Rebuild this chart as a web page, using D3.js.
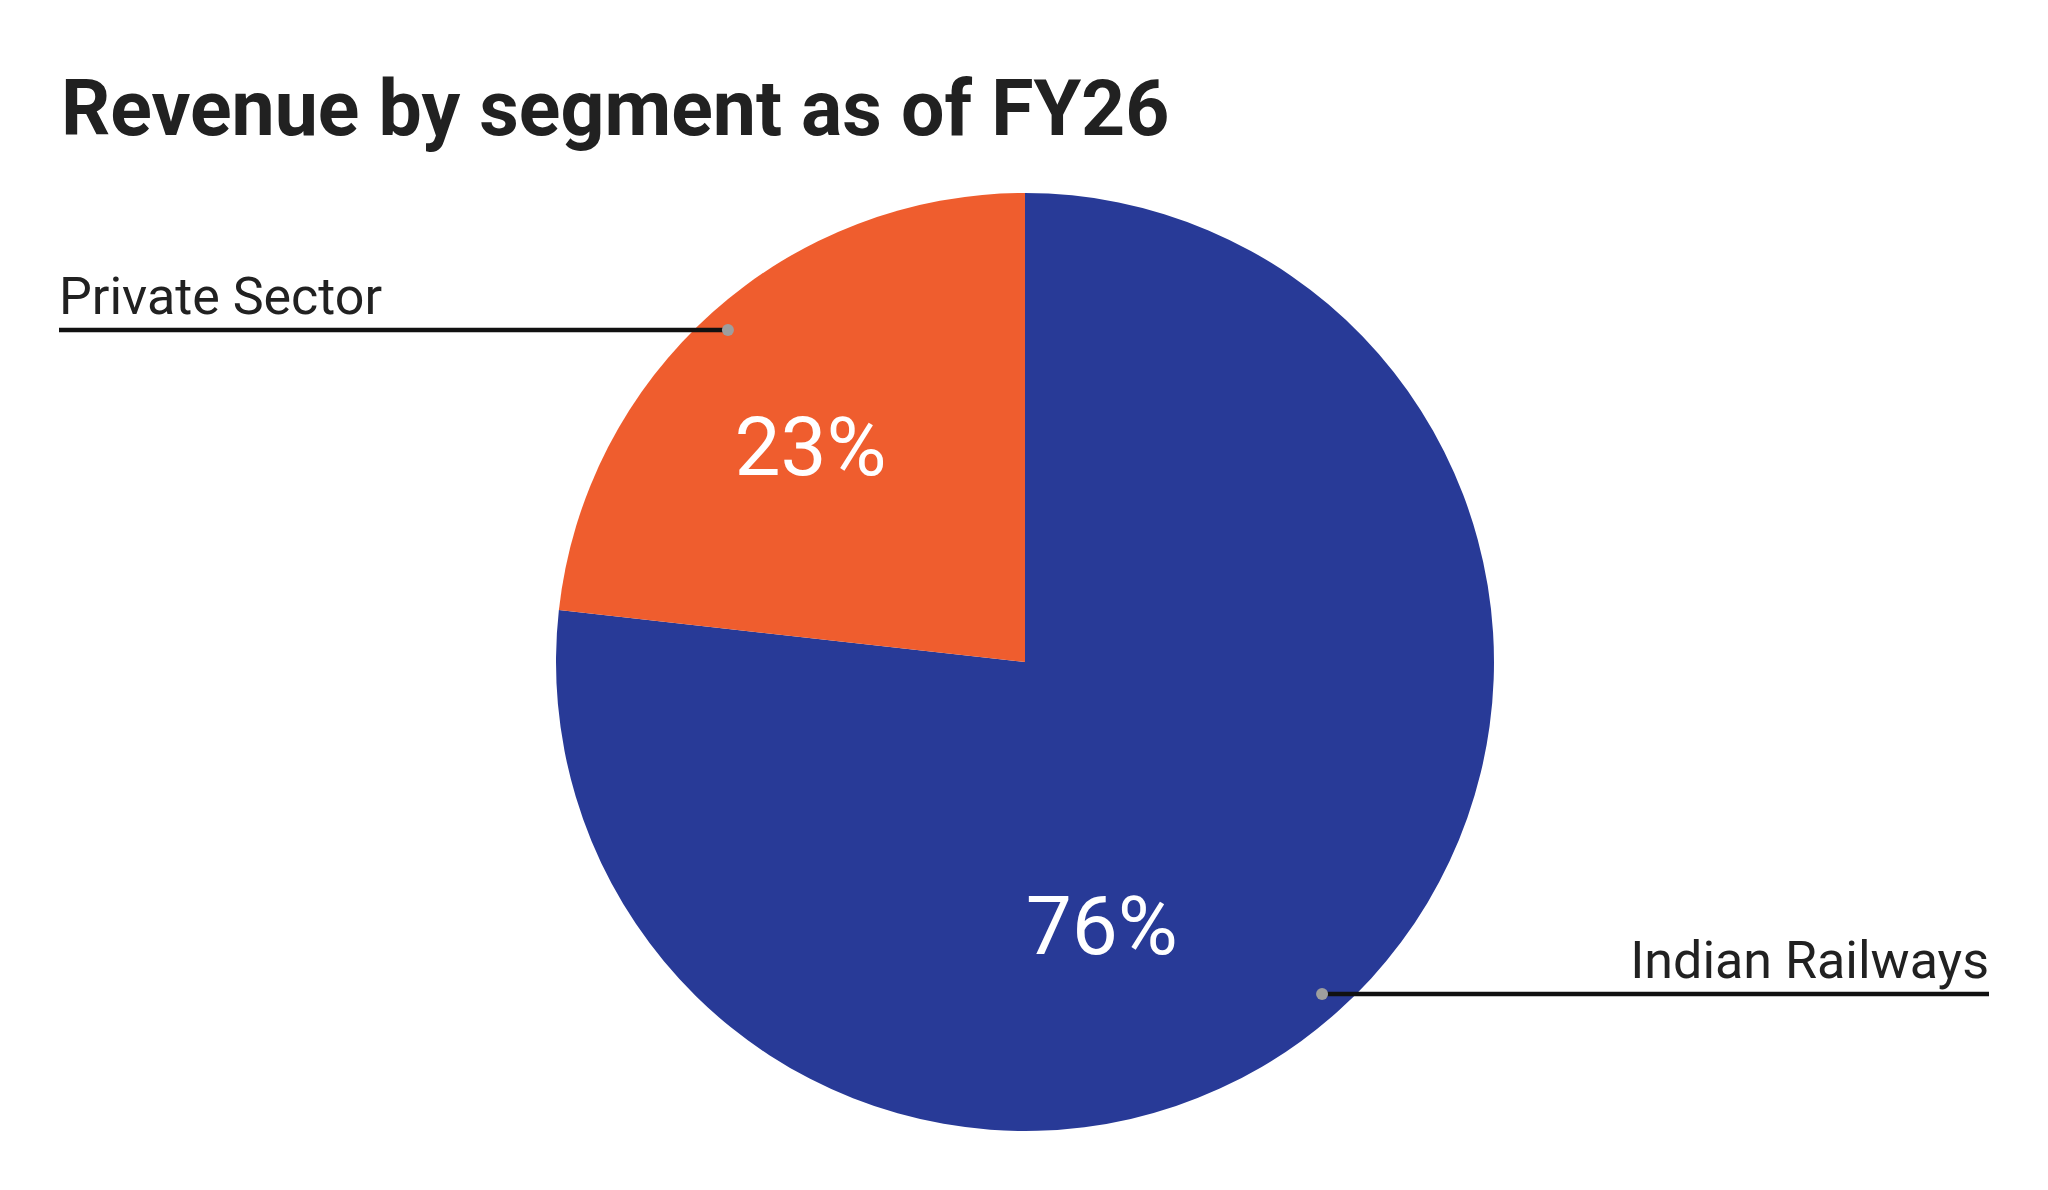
<!DOCTYPE html>
<html>
<head>
<meta charset="utf-8">
<script src="https://cdn.jsdelivr.net/npm/d3@7"></script>
<style>
  body { margin: 0; background: #fff; }
  text { font-family: Roboto, "Noto Sans", sans-serif; }
</style>
</head>
<body>
<svg id="chart" width="2048" height="1190"></svg>
<script>
"use strict";

// data
var segments = [ "Indian Railways", "Private Sector" ];
var shares   = [ 76, 23 ];
var pctLabels = [ "76%", "23%" ];
var colours  = [ "#283a97", "#ef5d2e" ];

var W = 2048, H = 1190;
var cx = 1025, cy = 662, R = 469;

var svg = d3.select("#chart");

svg.append("text")
  .attr( "x", 61 )
  .attr( "y", 135 )
  .style( "font-size", "77px" )
  .style( "font-weight", "bold" )
  .style( "fill", "#212121" )
  .text( "Revenue by segment as of FY26" );

var rows = segments.map( function(s, i) {
  return { name: s, value: shares[i], label: pctLabels[i], colour: colours[i] };
} );

var pie = d3.pie().sort( null ).value( function(d) { return d.value } );
var arcs = pie( rows );

var arc = d3.arc().innerRadius( 0 ).outerRadius( R );

var g = svg.append("g")
  .attr( "transform", "translate(" + cx + "," + cy + ")" );

// slices
g.selectAll("path.slice")
  .data( arcs )
  .enter().append("path")
  .attr( "class", "slice" )
  .attr( "d", arc )
  .style( "fill", function(d) { return d.data.colour } );

// percentage labels (big slice label sits off its middle, as in the source)
var labelFrac = [ 0.593, 0.46 ];
var labelDist = [ 0.59 * R, 0.645 * R ];
function polar( a, r ) { return [ Math.sin(a) * r, -Math.cos(a) * r ]; }

g.selectAll("text.pct")
  .data( arcs )
  .enter().append("text")
  .attr( "class", "pct" )
  .attr( "transform", function(d, i) {
    var a = d.startAngle + labelFrac[i] * ( d.endAngle - d.startAngle );
    var p = polar( a, labelDist[i] );
    return "translate(" + p[0] + "," + p[1] + ")";
  } )
  .attr( "text-anchor", "middle" )
  .attr( "dy", "0.32em" )
  .style( "font-size", "82px" )
  .style( "fill", "#fff" )
  .text( function(d) { return d.data.label } );

// leader lines
var xLeft = 59 - cx, xRight = 1989 - cx;
var leaders = arcs.map( function(d) {
  var a = ( d.startAngle + d.endAngle ) / 2;
  var p = polar( a, 0.95 * R );
  var left = p[0] < 0;
  return { p: p, end: left ? xLeft : xRight, left: left, name: d.data.name };
} );

g.selectAll("line.leader")
  .data( leaders )
  .enter().append("line")
  .attr( "class", "leader" )
  .attr( "x1", function(d) { return d.p[0] } )
  .attr( "y1", function(d) { return d.p[1] } )
  .attr( "x2", function(d) { return d.end } )
  .attr( "y2", function(d) { return d.p[1] } )
  .style( "stroke", "#111" )
  .style( "stroke-width", 4.5 );

g.selectAll("circle.dot")
  .data( leaders )
  .enter().append("circle")
  .attr( "class", "dot" )
  .attr( "cx", function(d) { return d.p[0] } )
  .attr( "cy", function(d) { return d.p[1] } )
  .attr( "r", 6 )
  .style( "fill", "#9e9e9e" );

g.selectAll("text.name")
  .data( leaders )
  .enter().append("text")
  .attr( "class", "name" )
  .attr( "x", function(d) { return d.end } )
  .attr( "y", function(d) { return d.p[1] - 16 } )
  .attr( "text-anchor", function(d) { return d.left ? "start" : "end" } )
  .style( "font-size", "52px" )
  .style( "fill", "#212121" )
  .text( function(d) { return d.name } );
</script>
</body>
</html>
